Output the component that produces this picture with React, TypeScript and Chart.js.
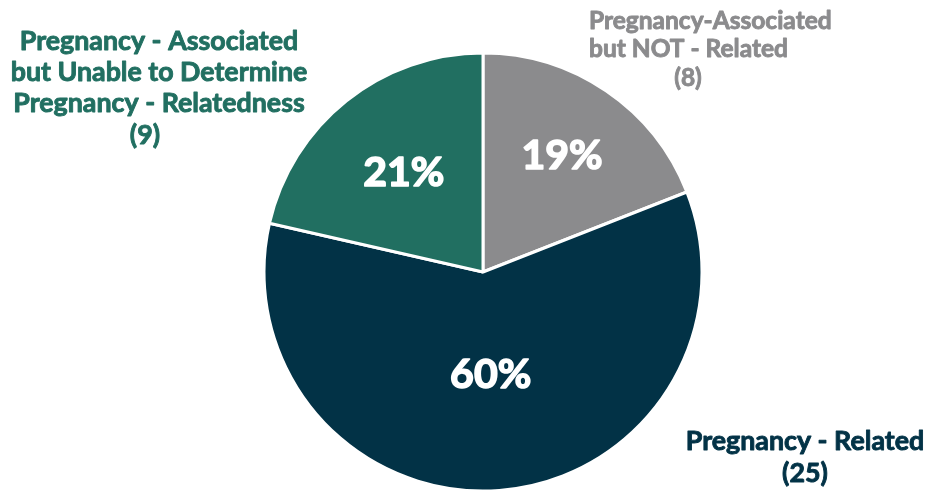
import React, { useEffect, useRef } from "react";
import { Chart, registerables } from "chart.js";

Chart.register(...registerables);

const categories = [
  "Pregnancy-Associated but NOT - Related",
  "Pregnancy - Related",
  "Pregnancy - Associated but Unable to Determine Pregnancy - Relatedness",
];
const counts = [8, 25, 9];
const percentLabels = ["19%", "60%", "21%"];
const sliceColors = ["#8b8b8d", "#023246", "#216f61"];
const textColors = ["#8b8b8d", "#023246", "#216f61"];

const outerLabels: { lines: string[]; x: number; y: number; align: CanvasTextAlign; size: number; lh: number }[] = [
  { lines: ["Pregnancy-Associated", "but NOT - Related"], x: 589, y: 21, align: "left", size: 24.5, lh: 28 },
  { lines: ["Pregnancy - Related", "(25)"], x: 805, y: 441, align: "center", size: 26.8, lh: 32 },
  { lines: ["Pregnancy - Associated", "but Unable to Determine", "Pregnancy - Relatedness"], x: 159, y: 41, align: "center", size: 26.8, lh: 31 },
];
const extraLines = [
  { text: "(8)", x: 688, y: 78, size: 24.5, idx: 0 },
  { text: "(9)", x: 145, y: 135, size: 26.8, idx: 2 },
];
const pctRadius = [0.64, 0.47, 0.58];

export default function App() {
  const ref = useRef<HTMLCanvasElement | null>(null);
  useEffect(() => {
    if (!ref.current) return;
    const drawText = (ctx: CanvasRenderingContext2D, t: string, x: number, y: number, w: number) => {
      ctx.lineWidth = w;
      ctx.lineJoin = "round";
      ctx.strokeText(t, x, y);
      ctx.fillText(t, x, y);
    };
    const labelPlugin = {
      id: "labels",
      afterDraw(chart: any) {
        const ctx = chart.ctx;
        const meta = chart.getDatasetMeta(0);
        ctx.save();
        ctx.textBaseline = "middle";
        ctx.fillStyle = "#ffffff";
        ctx.strokeStyle = "#ffffff";
        ctx.textAlign = "center";
        ctx.font = "bold 41px Lato";
        meta.data.forEach((arc: any, i: number) => {
          const p = arc.getProps(["x", "y", "startAngle", "endAngle", "outerRadius"], true);
          const mid = (p.startAngle + p.endAngle) / 2;
          const r = p.outerRadius * pctRadius[i];
          drawText(ctx, percentLabels[i], p.x + Math.cos(mid) * r, p.y + Math.sin(mid) * r, 1.6);
        });
        outerLabels.forEach((l, i) => {
          ctx.fillStyle = textColors[i];
          ctx.strokeStyle = textColors[i];
          ctx.font = `bold ${l.size}px Lato`;
          ctx.textAlign = l.align;
          l.lines.forEach((t, j) => drawText(ctx, t, l.x, l.y + j * l.lh, 0.9));
        });
        extraLines.forEach((e) => {
          ctx.fillStyle = textColors[e.idx];
          ctx.strokeStyle = textColors[e.idx];
          ctx.font = `bold ${e.size}px Lato`;
          ctx.textAlign = "center";
          drawText(ctx, e.text, e.x, e.y, 0.9);
        });
        ctx.restore();
      },
    };
    const chart = new Chart(ref.current, {
      type: "pie",
      data: {
        labels: categories,
        datasets: [
          {
            data: counts,
            backgroundColor: sliceColors,
            borderColor: "#ffffff",
            borderWidth: 3,
            radius: 219,
          },
        ],
      },
      options: {
        animation: false,
        responsive: false,
        maintainAspectRatio: false,
        layout: { padding: { left: 39, right: 0, top: 50, bottom: 0 } },
        plugins: { legend: { display: false }, tooltip: { enabled: false } },
      },
      plugins: [labelPlugin],
    });
    return () => chart.destroy();
  }, []);
  return (
    <div style={{ position: "fixed", left: 0, top: 0, width: 927, height: 494, background: "#ffffff" }}>
      <canvas ref={ref} width={927} height={494} style={{ width: 927, height: 494 }} />
    </div>
  );
}
